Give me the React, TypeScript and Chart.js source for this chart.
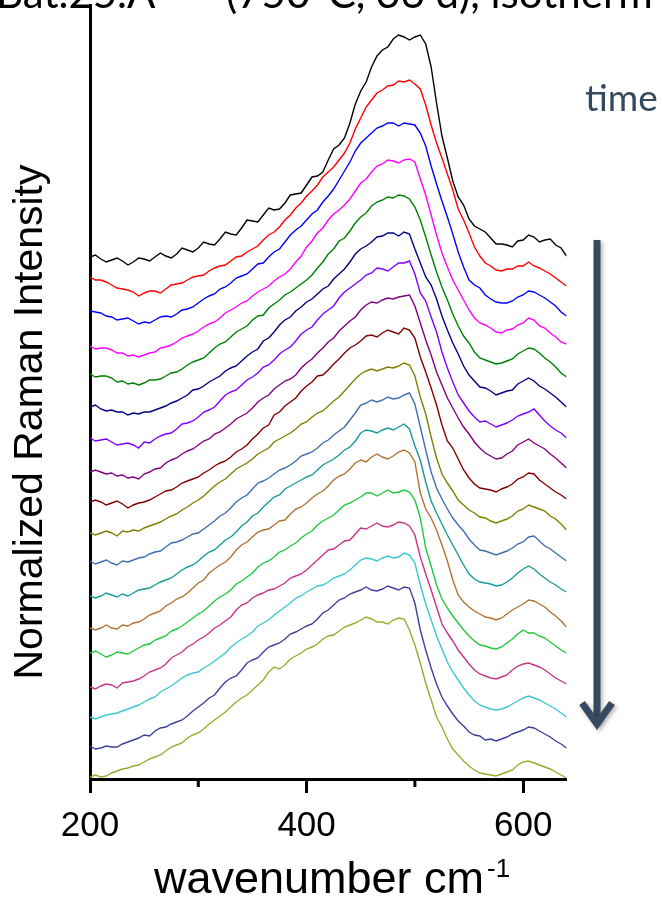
import React, { useEffect, useRef } from "react";
import { Chart, registerables } from "chart.js";

Chart.register(...registerables);

// Raman shift (cm-1)
const wavenumbers = [200,205,210,215,220,225,230,235,240,245,250,255,260,265,270,275,280,285,290,295,300,305,310,315,320,325,330,335,340,345,350,355,360,365,370,375,380,385,390,395,400,405,410,415,420,425,430,435,440,445,450,455,460,465,470,475,480,485,490,495,500,505,510,515,520,525,530,535,540,545,550,555,560,565,570,575,580,585,590,595,600,605,610,615,620,625,630,635,640];

// Stacked normalized intensities (arbitrary units, offset per spectrum), earliest first
const spectrum01 = [522,524,520,517,519,521,518,514,517,521,520,518,522,526,523,521,525,531,529,527,531,537,535,534,540,547,545,544,551,559,558,557,564,571,569,570,576,584,585,586,594,602,603,607,619,630,634,641,656,675,688,697,712,723,729,732,740,744,742,739,742,744,735,712,676,643,621,598,582,574,560,553,550,547,541,535,535,534,532,538,539,544,542,537,539,540,534,531,523];
const spectrum02 = [502,499,499,497,494,491,490,489,487,483,486,488,488,486,490,494,495,496,499,502,503,504,508,511,513,514,518,522,523,527,530,533,539,544,547,552,559,564,571,576,583,588,594,602,607,612,619,626,636,650,661,672,679,686,689,693,694,698,697,699,695,690,674,654,636,621,605,589,570,559,546,532,523,516,513,509,508,510,510,513,513,517,513,511,508,505,501,497,493];
const spectrum03 = [468,467,466,463,462,459,460,461,458,455,457,456,459,462,463,462,465,469,470,472,476,480,483,485,490,492,496,501,503,505,510,515,516,522,527,530,537,544,549,553,559,565,569,577,583,590,599,608,617,628,636,641,646,651,653,656,656,653,656,655,654,646,633,613,595,578,562,545,527,512,499,494,491,484,480,477,476,476,478,482,484,488,487,484,481,477,473,467,463];
const spectrum04 = [433,430,431,431,429,426,426,423,424,422,424,426,427,431,432,434,437,441,443,445,448,452,455,457,461,466,469,472,476,478,483,487,490,493,498,502,505,510,517,523,532,538,546,551,559,565,569,574,580,588,596,600,607,613,615,619,618,616,619,620,617,600,584,564,544,526,512,499,489,479,469,461,456,454,451,447,446,449,450,454,456,461,459,453,451,446,442,437,435];
const spectrum05 = [405,402,403,403,401,397,398,395,396,394,396,399,399,400,403,406,407,410,414,417,419,421,426,431,435,437,442,447,450,453,459,463,464,471,475,479,484,487,491,495,499,504,511,517,525,530,538,541,548,556,562,566,573,577,579,582,581,584,583,580,572,559,542,524,507,492,479,465,453,443,436,427,421,419,417,415,416,418,420,425,428,431,430,426,421,417,412,406,402];
const spectrum06 = [372,374,370,368,369,367,367,364,366,365,367,367,369,371,373,376,378,381,384,389,390,393,397,400,403,408,411,413,418,423,427,430,438,441,447,454,459,462,468,472,477,480,485,490,493,500,505,510,517,525,530,533,537,542,543,546,546,543,547,545,530,516,502,494,480,463,449,436,425,413,404,398,392,391,388,384,386,388,389,395,398,401,398,393,390,386,382,377,372];
const spectrum07 = [341,338,339,340,337,334,335,336,334,331,337,336,340,343,345,346,350,355,356,358,362,367,369,372,378,384,387,389,394,399,402,406,412,414,419,425,429,432,438,445,449,452,459,465,469,473,481,487,491,495,499,504,506,511,510,508,512,516,516,518,505,486,478,462,447,427,411,397,384,376,368,362,357,358,355,352,354,356,359,363,365,367,370,364,358,353,349,346,341];
const spectrum08 = [307,309,307,305,306,303,304,301,302,300,305,307,310,311,316,319,321,325,328,330,334,338,340,345,347,351,355,360,363,366,371,377,381,384,390,394,398,400,404,411,416,420,426,431,437,441,448,453,458,462,469,474,477,476,479,481,480,482,483,484,473,456,439,424,407,394,381,371,361,352,345,337,331,326,323,320,321,325,328,334,337,340,336,333,330,325,321,316,311];
const spectrum09 = [277,279,277,274,276,278,275,271,274,276,277,279,282,285,288,289,292,296,298,300,302,306,309,313,316,318,322,327,330,334,340,345,351,354,364,367,373,377,381,388,393,397,403,404,409,415,420,426,431,434,438,443,444,442,446,449,447,445,451,449,441,422,407,391,374,354,338,331,320,309,301,295,291,290,289,287,290,292,295,300,302,306,305,299,295,291,287,284,280];
const spectrum10 = [246,244,246,248,246,243,248,247,249,248,251,253,255,257,260,263,265,269,272,276,279,283,288,293,297,300,305,310,313,316,320,325,328,331,337,340,343,346,350,355,357,362,366,368,373,378,382,388,394,400,405,408,410,408,410,412,411,413,416,414,403,382,365,342,321,305,296,288,279,274,269,266,262,261,258,256,258,260,263,268,270,274,272,270,268,263,260,255,249];
const spectrum11 = [218,215,217,219,216,214,218,217,219,221,222,225,227,228,232,236,237,239,242,245,246,250,254,258,263,266,271,277,281,284,290,296,298,301,305,309,311,314,318,323,325,327,331,336,339,344,348,352,359,366,374,376,379,377,379,382,380,381,384,386,375,352,329,307,291,280,270,261,254,248,240,234,229,228,226,224,226,228,231,235,237,242,243,238,233,230,226,222,218];
const spectrum12 = [183,181,183,186,184,182,185,183,186,189,190,191,194,197,199,201,205,209,212,214,218,223,227,229,234,239,242,247,253,257,263,266,272,277,282,284,290,293,296,299,302,304,309,314,317,320,324,329,332,338,346,349,348,346,349,351,349,352,355,350,333,319,297,278,266,255,244,234,224,214,205,200,197,196,195,193,194,197,201,206,210,213,210,205,201,197,194,190,187];
const spectrum13 = [151,149,151,154,151,150,154,153,156,157,160,164,166,168,173,176,180,182,186,191,196,199,206,210,214,217,222,229,234,237,242,247,249,250,254,258,259,265,270,272,276,281,285,288,293,299,303,305,310,316,319,317,322,325,322,320,323,327,329,326,317,286,270,261,249,234,218,199,184,177,172,168,165,162,161,159,161,165,169,172,175,179,178,175,172,167,163,158,152];
const spectrum14 = [126,128,125,122,124,127,126,125,128,131,134,135,139,141,143,148,150,153,157,161,165,168,173,178,182,185,189,195,198,202,206,212,216,218,222,227,229,233,236,241,245,248,254,258,261,264,269,274,276,279,282,286,286,283,286,289,286,287,289,287,279,261,231,213,194,180,171,163,156,149,143,138,134,133,131,130,132,136,140,145,149,146,146,143,141,137,133,129,126];
const spectrum15 = [92,90,93,95,94,91,96,97,98,100,103,107,109,111,115,121,124,127,132,135,139,142,146,151,154,158,162,169,174,176,181,184,186,189,190,193,196,201,203,205,209,214,219,224,229,230,234,238,239,245,251,250,253,256,253,252,254,257,256,253,244,222,205,189,172,155,146,138,129,122,115,109,105,103,101,100,102,104,109,113,115,116,114,112,109,105,101,98,95];
const spectrum16 = [62,60,62,64,65,66,68,70,72,74,77,80,82,87,90,93,97,101,104,106,107,111,114,118,122,126,132,136,140,143,147,153,156,159,164,168,172,176,181,183,187,190,193,194,197,201,203,205,209,214,219,221,220,218,221,223,221,222,226,224,216,194,175,159,143,130,117,107,99,91,84,78,74,72,70,69,70,72,75,78,81,83,81,79,76,73,70,66,62];
const spectrum17 = [33,30,31,33,32,32,35,37,39,41,44,43,48,51,52,55,57,59,63,68,72,76,81,84,91,97,101,103,109,116,119,121,127,132,134,136,140,145,147,150,153,155,160,166,169,174,179,181,185,187,189,192,189,188,190,193,191,189,192,191,176,149,129,111,95,82,73,65,58,53,47,44,43,39,40,38,40,42,45,47,49,52,51,48,45,42,38,35,31];
const spectrum18 = [2,4,2,3,6,8,10,11,13,14,17,20,22,24,28,32,34,36,41,44,46,50,55,59,63,67,72,77,81,84,89,94,99,107,112,110,114,120,123,126,130,132,135,140,143,144,148,152,154,156,159,162,160,157,157,155,159,161,160,149,134,116,96,79,62,52,40,30,24,18,13,9,6,5,4,3,5,7,9,14,17,18,16,14,12,10,7,4,1];

const spectrumColors = [
  "#000000", "#ff0000", "#0000ff", "#ff00ff", "#008000", "#000080",
  "#8000ff", "#800080", "#800000", "#808000", "#3f6fb0", "#1a9a9a",
  "#af7332", "#20c840", "#c8338a", "#3cc8d2", "#40409a", "#a0a830",
];

const xTickValues = [200, 400, 600];
const xMinorTickValues = [300, 500];

const titleSample = "Bat.25.A";
const titleCondition = "(750\u00b0C, 36 d), isotherm";
const yTitle = "Normalized Raman Intensity";
const xTitle = "wavenumber cm";
const xTitleSup = "-1";
const timeLabel = "time";

const overlayPlugin = {
  id: "overlay",
  afterDraw(chart: any) {
    const { ctx, chartArea, scales } = chart;
    const xs = scales.x;
    ctx.save();

    // minor ticks
    ctx.strokeStyle = "#000";
    ctx.lineWidth = 3;
    xMinorTickValues.forEach((v) => {
      const px = xs.getPixelForValue(v);
      ctx.beginPath();
      ctx.moveTo(px, chartArea.bottom);
      ctx.lineTo(px, chartArea.bottom + 8);
      ctx.stroke();
    });

    // cut-off title at top
    ctx.fillStyle = "#000";
    ctx.font = "42px Lato";
    ctx.textBaseline = "alphabetic";
    ctx.textAlign = "left";
    ctx.fillText(titleSample, -4, 8);
    ctx.fillText(titleCondition, 226, 8);

    // y axis title
    ctx.save();
    ctx.translate(31, 422);
    ctx.rotate(-Math.PI / 2);
    ctx.font = "41px 'Liberation Sans'";
    ctx.textAlign = "center";
    ctx.textBaseline = "middle";
    ctx.fillText(yTitle, 0, 0);
    ctx.restore();

    // x axis title
    ctx.textAlign = "left";
    ctx.textBaseline = "alphabetic";
    const mainFont = "45px 'Liberation Sans'";
    const supFont = "26px 'Liberation Sans'";
    ctx.font = mainFont;
    const w = ctx.measureText(xTitle).width;
    ctx.font = supFont;
    const ws = ctx.measureText(xTitleSup).width;
    const startX = 332 - (w + 3 + ws) / 2;
    ctx.font = mainFont;
    ctx.fillText(xTitle, startX, 893);
    ctx.font = supFont;
    ctx.fillText(xTitleSup, startX + w + 3, 877);

    // time label
    ctx.fillStyle = "#34495e";
    ctx.font = "37px Lato";
    ctx.fillText(timeLabel, 585, 111);

    // time arrow
    ctx.shadowColor = "rgba(0,0,0,0.3)";
    ctx.shadowBlur = 4;
    ctx.shadowOffsetX = 2;
    ctx.shadowOffsetY = 2;
    ctx.strokeStyle = "#364b5f";
    ctx.lineWidth = 7;
    ctx.lineCap = "butt";
    ctx.lineJoin = "miter";
    ctx.beginPath();
    ctx.moveTo(597, 240);
    ctx.lineTo(597, 722);
    ctx.stroke();
    ctx.beginPath();
    ctx.moveTo(582, 703);
    ctx.lineTo(597, 724);
    ctx.lineTo(612, 703);
    ctx.stroke();

    ctx.restore();
  },
};

export default function App() {
  const ref = useRef<HTMLCanvasElement | null>(null);

  useEffect(() => {
    if (!ref.current) return;
    const series = [
      spectrum01, spectrum02, spectrum03, spectrum04, spectrum05, spectrum06,
      spectrum07, spectrum08, spectrum09, spectrum10, spectrum11, spectrum12,
      spectrum13, spectrum14, spectrum15, spectrum16, spectrum17, spectrum18,
    ];
    const chart = new Chart(ref.current, {
      type: "line",
      data: {
        datasets: series.map((s, i) => ({
          data: s.map((v, j) => ({ x: wavenumbers[j], y: v })),
          borderColor: spectrumColors[i],
          borderWidth: 1.4,
          pointRadius: 0,
          fill: false,
          tension: 0,
        })),
      },
      options: {
        responsive: false,
        animation: false,
        devicePixelRatio: 1,
        layout: { padding: { top: 5, right: 95.5, left: 0, bottom: 0 } },
        plugins: {
          legend: { display: false },
          tooltip: { enabled: false },
          title: { display: false },
        },
        scales: {
          x: {
            type: "linear",
            min: 200,
            max: 640,
            afterBuildTicks: (s: any) => {
              s.ticks = xTickValues.map((v) => ({ value: v }));
            },
            afterFit: (s: any) => {
              s.height = 120;
            },
            ticks: {
              autoSkip: false,
              maxRotation: 0,
              padding: 12,
              color: "#000",
              font: { family: "'Liberation Sans', Arial", size: 35 },
            },
            grid: {
              display: true,
              drawOnChartArea: false,
              drawTicks: true,
              tickLength: 14,
              tickWidth: 3,
              tickColor: "#000",
            },
            border: { display: true, color: "#000", width: 3 },
          },
          y: {
            type: "linear",
            min: 0,
            max: 774,
            afterFit: (s: any) => {
              s.width = 90;
            },
            ticks: { display: false },
            grid: { display: false },
            border: { display: true, color: "#000", width: 3 },
          },
        },
      },
      plugins: [overlayPlugin],
    } as any);
    return () => chart.destroy();
  }, []);

  return (
    <div style={{ position: "absolute", left: 0, top: 0, width: 662, height: 899, background: "#fff" }}>
      <canvas ref={ref} width={662} height={899} style={{ display: "block", width: 662, height: 899 }} />
    </div>
  );
}
